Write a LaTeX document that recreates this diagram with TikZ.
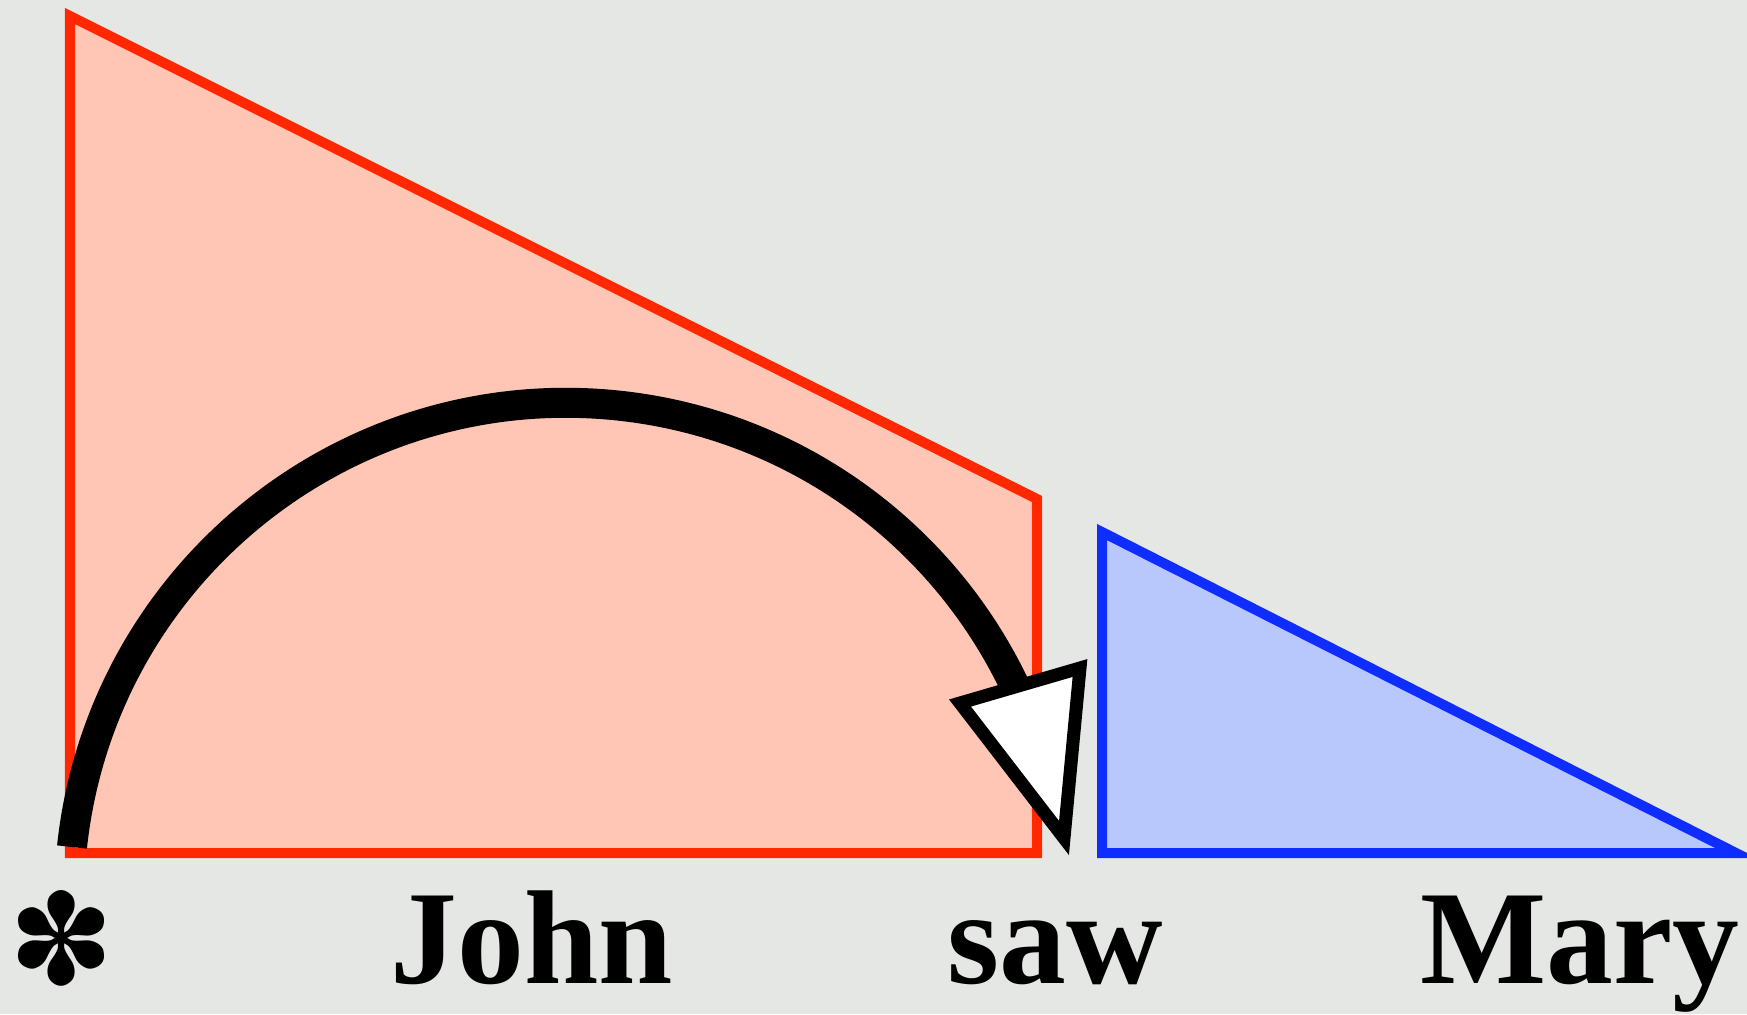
\documentclass[tikz,border=0pt]{standalone}
\usepackage{fontspec}
\setmainfont{Liberation Serif}[BoldFont={Liberation Serif Bold}]
\newfontfamily\symfont{DejaVu Sans}
\definecolor{bg}{RGB}{229,231,228}
\definecolor{redline}{RGB}{255,40,0}
\definecolor{redfill}{RGB}{255,197,181}
\definecolor{blueline}{RGB}{15,45,255}
\definecolor{bluefill}{RGB}{184,200,252}
\begin{document}
\begin{tikzpicture}[x=0.01cm,y=-0.01cm,
  word/.style={font=\fontsize{38}{40}\selectfont\bfseries, anchor=base, inner sep=0pt},
  redshape/.style={draw=redline, fill=redfill, line width=0.1cm, line join=miter},
  blueshape/.style={draw=blueline, fill=bluefill, line width=0.1cm, line join=miter},
  movearc/.style={draw=black, line width=0.3cm, line cap=butt},
  arrowhd/.style={draw=black, fill=white, line width=0.13cm, line join=miter}]
\fill[bg] (0,0) rectangle (1747,1014);
\useasboundingbox (0,0) rectangle (1747,1014);
% red constituent
\coordinate (r1) at (70,16);
\coordinate (r2) at (1037,499);
\coordinate (r3) at (1037,853);
\coordinate (r4) at (70,853);
\path[redshape] (r1) -- (r2) -- (r3) -- (r4) -- cycle;
% blue constituent
\coordinate (b1) at (1102,532);
\coordinate (b2) at (1736,853);
\coordinate (b3) at (1102,853);
\path[blueshape] (b1) -- (b2) -- (b3) -- cycle;
% movement arc
\coordinate (arcstart) at (72,847);
\path[movearc] (arcstart) arc[start angle=186.1, end angle=338, radius=497];
% arrowhead
\coordinate (a1) at (960,703);
\coordinate (a2) at (1080,668);
\coordinate (a3) at (1064,838);
\path[arrowhd] (a1) -- (a2) -- (a3) -- cycle;
% words
\node[inner sep=0pt, font=\symfont\fontsize{36}{38}\selectfont] (star) at (62,938) {✽};
\node[word] (john) at (532,983) {John};
\node[word] (saw) at (1055,983) {saw};
\node[word] (mary) at (1580,983) {Mary};
\end{tikzpicture}
\end{document}
